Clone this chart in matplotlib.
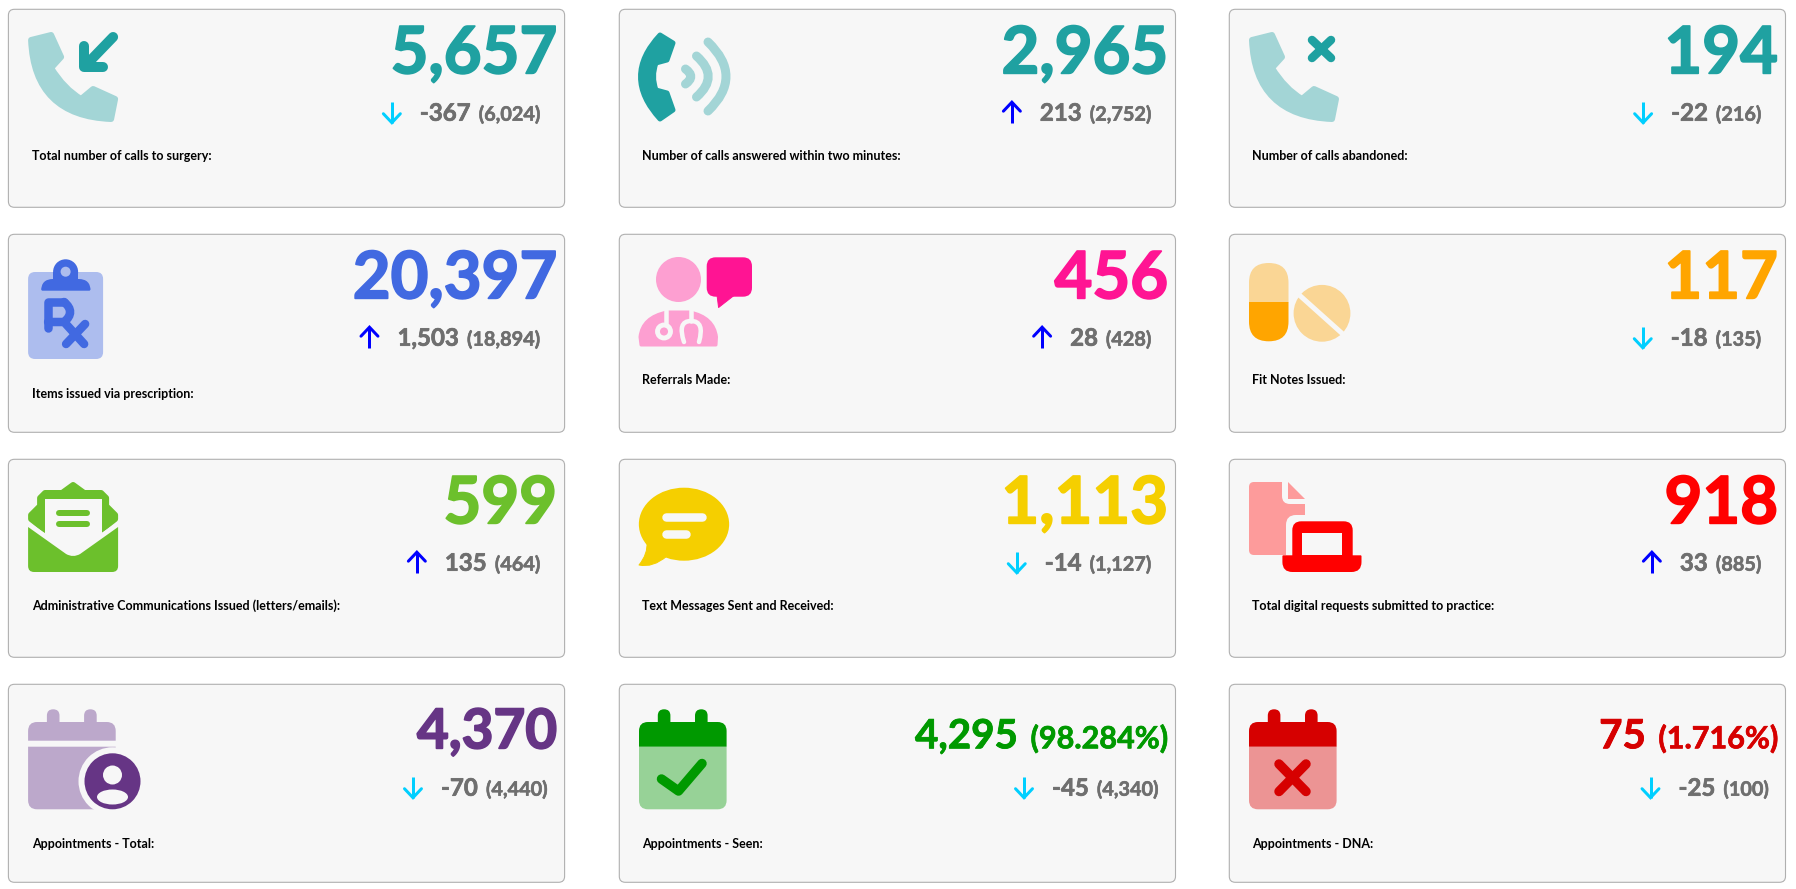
"""
plot.py - Activity dashboard cards drawn with matplotlib (pixel coordinates).
"""

import matplotlib
matplotlib.use('Agg')  # Non-interactive backend
import matplotlib.patheffects as pe
import matplotlib.pyplot as plt
from matplotlib.patches import Circle, Ellipse, PathPatch, Rectangle
from matplotlib.path import Path

LABELS = [
    'Total number of calls to surgery:',
    'Number of calls answered within two minutes:',
    'Number of calls abandoned:',
    'Items issued via prescription:',
    'Referrals Made:',
    'Fit Notes Issued:',
    'Administrative Communications Issued (letters/emails):',
    'Text Messages Sent and Received:',
    'Total digital requests submitted to practice:',
    'Appointments - Total:',
    'Appointments - Seen:',
    'Appointments - DNA:',
]
TOTALS = [5657, 2965, 194, 20397, 456, 117, 599, 1113, 918, 4370, 4295, 75]
CHANGES = [-367, 213, -22, 1503, 28, -18, 135, -14, 33, -70, -45, -25]
PREVIOUS = [6024, 2752, 216, 18894, 428, 135, 464, 1127, 885, 4440, 4340, 100]
PERCENTS = [None] * 10 + ['98.284%', '1.716%']
COLOURS = ['#1fa1a1', '#1fa1a1', '#1fa1a1', '#4169e1', '#ff1493', '#ffa500',
           '#6cc02c', '#f5cf00', '#ff0000', '#663585', '#009900', '#d60000']
LIGHTS = ['#a3d5d6', '#a3d5d6', '#a3d5d6', '#adbdee', '#fd9fd1', '#fad695',
          '#6cc02c', '#f5cf00', '#fd9b9b', '#bca8cb', '#97d297', '#ec9494']

CARD_LEFT = [8.4, 619.3, 1229.3]
CARD_W = 556.2
CARD_H = 198
ROW_Y = [0, 225, 450, 675]
BG = '#f7f7f7'
GREY = '#6f6f6f'
FONT = 'Lato'

fig = plt.figure(figsize=(17.96, 8.89), dpi=100, facecolor='white')
ax = fig.add_axes([0, 0, 1, 1])
ax.set_xlim(0, 1796)
ax.set_ylim(889, 0)
ax.axis('off')
renderer = fig.canvas.get_renderer()


def rrect(x, y, w, h, r=(0, 0, 0, 0)):
    """Path of a rectangle, corner radii in order tl, tr, br, bl."""
    if not isinstance(r, (tuple, list)):
        r = (r, r, r, r)
    tl, tr, br, bl = r
    x2, y2 = x + w, y + h
    verts = [(x + tl, y), (x2 - tr, y), (x2, y), (x2, y + tr), (x2, y2 - br), (x2, y2),
             (x2 - br, y2), (x + bl, y2), (x, y2), (x, y2 - bl), (x, y + tl), (x, y),
             (x + tl, y), (x + tl, y)]
    codes = [Path.MOVETO, Path.LINETO, Path.CURVE3, Path.CURVE3, Path.LINETO, Path.CURVE3,
             Path.CURVE3, Path.LINETO, Path.CURVE3, Path.CURVE3, Path.LINETO, Path.CURVE3,
             Path.CURVE3, Path.CLOSEPOLY]
    return Path(verts, codes)


def add_path(path, color, round_px=0.0, zorder=3):
    ax.add_patch(PathPatch(path, fc=color, ec=color if round_px else 'none',
                           lw=round_px * 0.72, joinstyle='round', zorder=zorder))


def poly(points, color, round_px=0.0, zorder=3):
    verts = list(points) + [points[0]]
    codes = [Path.MOVETO] + [Path.LINETO] * (len(points) - 1) + [Path.CLOSEPOLY]
    add_path(Path(verts, codes), color, round_px, zorder)


def stroke(points, color, width, zorder=4):
    xs = [p[0] for p in points]
    ys = [p[1] for p in points]
    ax.plot(xs, ys, color=color, lw=width * 0.72, solid_capstyle='round',
            solid_joinstyle='round', zorder=zorder)


def arc(p0, ctrl, p1, color, width, zorder=4):
    ax.add_patch(PathPatch(Path([p0, ctrl, p1], [Path.MOVETO, Path.CURVE3, Path.CURVE3]),
                           fc='none', ec=color, lw=width * 0.72, capstyle='round', zorder=zorder))


def handset(x, y, color):
    pts = [(3, 8), (23, 3), (33, 25), (23, 36), (53, 67), (65, 57), (87, 67), (83, 87)]
    verts = [(x + a, y + b) for a, b in pts]
    path = Path(
        [verts[0], verts[1], verts[2], verts[3], (x + 36, y + 57), verts[4], verts[5], verts[6],
         verts[7], (x + 6, y + 84), verts[0], verts[0]],
        [Path.MOVETO, Path.LINETO, Path.LINETO, Path.LINETO, Path.CURVE3, Path.CURVE3, Path.LINETO,
         Path.LINETO, Path.LINETO, Path.CURVE3, Path.CURVE3, Path.CLOSEPOLY])
    add_path(path, color, 6)


def icon_call_in(x, y, c, l):
    handset(x, y, l)
    stroke([(x + 85, y + 5), (x + 57, y + 34)], c, 10)
    stroke([(x + 56, y + 14), (x + 56, y + 35), (x + 75, y + 35)], c, 10)


def icon_call_answered(x, y, c, l):
    p = lambda a, b: (x + a, y + b)
    path = Path(
        [p(21, 3), p(34, 11), p(28, 28), p(17, 31), p(12, 44.5), p(17, 58), p(28, 61), p(34, 78),
         p(21, 87), p(-18, 44.5), p(21, 3), p(21, 3)],
        [Path.MOVETO, Path.LINETO, Path.LINETO, Path.LINETO, Path.CURVE3, Path.CURVE3, Path.LINETO,
         Path.LINETO, Path.LINETO, Path.CURVE3, Path.CURVE3, Path.CLOSEPOLY])
    add_path(path, c, 5)
    arc(p(46.5, 37), p(57, 44.5), p(46.5, 52), l, 9)
    arc(p(57.5, 24), p(81, 44.5), p(57.5, 65), l, 9)
    arc(p(69, 10), p(105, 44.5), p(69, 79), l, 9)


def icon_call_abandoned(x, y, c, l):
    handset(x, y, l)
    stroke([(x + 63, y + 8), (x + 82, y + 26)], c, 8.5)
    stroke([(x + 82, y + 8), (x + 63, y + 26)], c, 8.5)


def icon_rx(x, y, c, l):
    add_path(rrect(x, y + 15, 75, 87, 7), l)
    add_path(rrect(x + 13, y + 22, 49.5, 11.7, (12, 12, 1.5, 1.5)), c)
    ax.add_patch(Circle((x + 37.5, y + 14.8), 12.5, fc=c, ec='none', zorder=3))
    ax.add_patch(Rectangle((x + 25, y + 15), 25, 10, fc=c, ec='none', zorder=3))
    ax.add_patch(Circle((x + 37.5, y + 14.7), 5, fc=l, ec='none', zorder=4))
    stroke([(x + 20, y + 71), (x + 20, y + 45), (x + 36, y + 45)], c, 8.5)
    arc((x + 36, y + 45), (x + 48, y + 55), (x + 36, y + 65), c, 8.5)
    stroke([(x + 20, y + 65), (x + 36, y + 65), (x + 56, y + 87)], c, 8.5)
    stroke([(x + 57, y + 67), (x + 38, y + 87)], c, 8.5)


def icon_doctor(x, y, c, l):
    ax.add_patch(Circle((x + 39.5, y + 22.5), 22.5, fc=l, ec='none', zorder=3))
    body = Path(
        [(x + 2, y + 88), (x + 1, y + 80), (x + 3, y + 60), (x + 28, y + 55), (x + 51, y + 55),
         (x + 75, y + 60), (x + 77.5, y + 80), (x + 77, y + 88), (x + 2, y + 88)],
        [Path.MOVETO, Path.LINETO, Path.CURVE3, Path.CURVE3, Path.LINETO, Path.CURVE3, Path.CURVE3,
         Path.LINETO, Path.CLOSEPOLY])
    add_path(body, l, 3)
    stroke([(x + 27, y + 53), (x + 27, y + 66)], BG, 4.5)
    stroke([(x + 52, y + 53), (x + 52, y + 64)], BG, 4.5)
    ax.add_patch(Circle((x + 25, y + 74.5), 6.5, fc='none', ec=BG, lw=3.5, zorder=4))
    arc((x + 45, y + 85), (x + 38, y + 64), (x + 52, y + 64), BG, 4.5)
    arc((x + 52, y + 64), (x + 66, y + 64), (x + 60, y + 85), BG, 4.5)
    add_path(rrect(x + 67.7, y + 0.3, 45.3, 39.4, 9), c)
    poly([(x + 78, y + 38), (x + 79.6, y + 50.5), (x + 95.6, y + 38)], c, 1)


def icon_pills(x, y, c, l):
    add_path(rrect(x, y + 6, 39.5, 39.3, (19.7, 19.7, 0, 0)), l)
    add_path(rrect(x, y + 45, 39.5, 39.3, (0, 0, 19.7, 19.7)), c)
    ax.add_patch(Circle((x + 73, y + 56.3), 28.4, fc=l, ec='none', zorder=3))
    ax.plot([x + 48, x + 96], [y + 36, y + 79], color=BG, lw=5 * 0.72, zorder=4)


def icon_envelope(x, y, c, l):
    poly([(x + 45, y + 3), (x + 34, y + 11), (x + 17, y + 11), (x + 12, y + 16), (x + 12, y + 24),
          (x + 3, y + 33), (x + 3, y + 37), (x + 17, y + 48), (x + 73, y + 48), (x + 87, y + 37),
          (x + 87, y + 33), (x + 78, y + 24), (x + 78, y + 16), (x + 73, y + 11), (x + 56, y + 11)],
         c, 6)
    ax.add_patch(Rectangle((x + 17, y + 17), 56.5, 37, fc=BG, ec='none', zorder=4))
    stroke([(x + 31, y + 31.3), (x + 59, y + 31.3)], c, 6, zorder=5)
    stroke([(x + 31, y + 42), (x + 59, y + 42)], c, 6, zorder=5)
    lower = Path(
        [(x, y + 45), (x + 38, y + 72), (x + 45, y + 76), (x + 52, y + 72), (x + 90, y + 45),
         (x + 90, y + 84), (x + 90, y + 90), (x + 84, y + 90), (x + 6, y + 90), (x, y + 90),
         (x, y + 84), (x, y + 45)],
        [Path.MOVETO, Path.LINETO, Path.CURVE3, Path.CURVE3, Path.LINETO, Path.LINETO, Path.CURVE3,
         Path.CURVE3, Path.LINETO, Path.CURVE3, Path.CURVE3, Path.CLOSEPOLY])
    add_path(lower, c, zorder=5)
    # white gap between the flap and the front of the envelope
    stroke([(x - 2, y + 41), (x + 17, y + 54)], BG, 4.5, zorder=4)
    stroke([(x + 92, y + 41), (x + 73, y + 54)], BG, 4.5, zorder=4)


def icon_bubble(x, y, c, l):
    ax.add_patch(Ellipse((x + 45, y + 42.2), 90.3, 73, fc=c, ec='none', zorder=3))
    tail = Path(
        [(x + 8, y + 60), (x + 9, y + 72), (x, y + 83), (x + 14, y + 86), (x + 28, y + 74), (x + 8, y + 60)],
        [Path.MOVETO, Path.CURVE3, Path.CURVE3, Path.CURVE3, Path.CURVE3, Path.CLOSEPOLY])
    add_path(tail, c, 1)
    stroke([(x + 27, y + 35.3), (x + 63, y + 35.3)], BG, 8.5)
    stroke([(x + 27, y + 52), (x + 47, y + 52)], BG, 8.5)


def icon_file_laptop(x, y, c, l):
    page = Path(
        [(x + 5, y), (x + 33, y), (x + 33, y + 14), (x + 33, y + 22), (x + 41, y + 22), (x + 56, y + 22),
         (x + 56, y + 73), (x + 5, y + 73), (x, y + 73), (x, y + 68), (x, y + 5), (x, y), (x + 5, y),
         (x + 5, y)],
        [Path.MOVETO, Path.LINETO, Path.LINETO, Path.CURVE3, Path.CURVE3, Path.LINETO, Path.LINETO,
         Path.LINETO, Path.CURVE3, Path.CURVE3, Path.LINETO, Path.CURVE3, Path.CURVE3, Path.CLOSEPOLY])
    add_path(page, l)
    poly([(x + 39, y), (x + 56, y + 17), (x + 39, y + 17)], l)
    # halo around the laptop, same colour as the card
    add_path(rrect(x + 37, y + 33, 80, 60, 10), BG, zorder=4)
    add_path(rrect(x + 43.3, y + 39.3, 60.4, 36, (9, 9, 0, 0)), c, zorder=5)
    ax.add_patch(Rectangle((x + 53, y + 50.7), 40, 22.6, fc=BG, ec='none', zorder=6))
    add_path(rrect(x + 33.4, y + 73.3, 79.1, 16.7, (1, 1, 10, 10)), c, zorder=6)


def calendar(x, y, head, body, split):
    if split:
        add_path(rrect(x, y + 15, 87.6, 18.7, (9, 9, 0, 0)), head)
        add_path(rrect(x, y + 39.7, 87.6, 62.6, (0, 0, 9, 9)), body)
    else:
        add_path(rrect(x, y + 39.7, 87.6, 62.6, (0, 0, 9, 9)), body)
        add_path(rrect(x, y + 15, 87.6, 24.7, (9, 9, 0, 0)), head)
    add_path(rrect(x + 18.8, y + 2.3, 12.6, 16, (6.3, 6.3, 0, 0)), head)
    add_path(rrect(x + 56, y + 2.3, 12.6, 16, (6.3, 6.3, 0, 0)), head)


def icon_cal_total(x, y, c, l):
    calendar(x, y, l, l, True)
    ax.add_patch(Circle((x + 84.4, y + 74.3), 34, fc=BG, ec='none', zorder=4))
    ax.add_patch(Circle((x + 84.4, y + 74.3), 28, fc=c, ec='none', zorder=5))
    ax.add_patch(Circle((x + 84.4, y + 68), 9.5, fc=BG, ec='none', zorder=6))
    ax.add_patch(Ellipse((x + 84.4, y + 90), 31, 15, fc=BG, ec='none', zorder=6))


def icon_cal_seen(x, y, c, l):
    calendar(x, y, c, l, False)
    stroke([(x + 22.5, y + 72), (x + 39.5, y + 84), (x + 63, y + 56.5)], c, 9.5)


def icon_cal_dna(x, y, c, l):
    calendar(x, y, c, l, False)
    stroke([(x + 30, y + 57), (x + 57, y + 84.5)], c, 9.5)
    stroke([(x + 57, y + 57), (x + 30, y + 84.5)], c, 9.5)


ICONS = [icon_call_in, icon_call_answered, icon_call_abandoned, icon_rx, icon_doctor, icon_pills,
         icon_envelope, icon_bubble, icon_file_laptop, icon_cal_total, icon_cal_seen, icon_cal_dna]
# label sits lower on these cards (icon is taller)
LOW_LABEL = {3, 9, 10, 11}


def draw_arrow(cx, up, base_y):
    color = '#0000ff' if up else '#00cfff'
    top, bottom = base_y - 18.5, base_y + 2
    tip, tail = (top, bottom) if up else (bottom, top)
    back = tip + 9 if up else tip - 9
    ax.plot([cx, cx], [tip, tail], color=color, lw=3 * 0.72, solid_capstyle='butt', zorder=5)
    ax.plot([cx - 8.5, cx, cx + 8.5], [back, tip, back], color=color, lw=3 * 0.72,
            solid_capstyle='round', solid_joinstyle='miter', zorder=5)


def right_text(x, y, s, size, color, extra=0.6):
    # Lato Bold reads thinner than the original, thicken it with a small outline
    t = ax.text(x, y, s, ha='right', va='baseline', fontsize=size, fontweight='bold',
                family=FONT, color=color, zorder=6,
                path_effects=[pe.withStroke(linewidth=extra, foreground=color)])
    return t.get_window_extent(renderer).x0


for i, label in enumerate(LABELS):
    row, col = divmod(i, 3)
    left = CARD_LEFT[col]
    oy = ROW_Y[row]
    add_path(rrect(left, oy + 9.3, CARD_W, CARD_H, 6), BG, zorder=1)
    ax.add_patch(PathPatch(rrect(left, oy + 9.3, CARD_W, CARD_H, 6), fc='none', ec='#b0b0b0',
                           lw=0.8, zorder=2))

    ICONS[i](left + 19.7, oy + 32, COLOURS[i], LIGHTS[i])

    right = left + CARD_W - 7.5
    if PERCENTS[i]:
        x0 = right_text(right, oy + 73.3, f'({PERCENTS[i]})', 22, COLOURS[i], 0.5)
        right_text(x0 - 12.5, oy + 73.3, f'{TOTALS[i]:,}', 29, COLOURS[i], 0.6)
    else:
        size = 39.5 if row == 3 else 47
        right_text(right, oy + 73.3, f'{TOTALS[i]:,}', size, COLOURS[i], 1.3)

    sub_right = left + CARD_W - (16.5 if row == 3 else 24)
    x0 = right_text(sub_right, oy + 120.7, f'({PREVIOUS[i]:,})', 14.3, GREY, 0.4)
    x0 = right_text(x0 - 8, oy + 120.7, f'{CHANGES[i]:,}', 17.3, GREY, 0.5)
    draw_arrow(x0 - 28, CHANGES[i] > 0, oy + 120.7)

    ax.text(left + 23.2, oy + (173.5 if i in LOW_LABEL else 159.5), label, ha='left', va='baseline',
            fontsize=9, fontweight='bold', family=FONT, color='black', zorder=6)

fig.savefig('out.png', dpi=100, facecolor='white')
plt.close(fig)
